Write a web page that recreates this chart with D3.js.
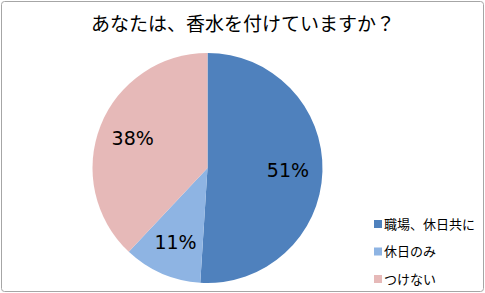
<!DOCTYPE html>
<html>
<head>
<meta charset="utf-8">
<script src="https://cdn.jsdelivr.net/npm/d3@7"></script>
<style>
	body { margin: 0; background: #fff; }
	text { font-family: "Noto Sans CJK JP", "Noto Sans", sans-serif; fill: #000; }
</style>
</head>
<body>
<script>
let categories = ['職場、休日共に', '休日のみ', 'つけない']
let values = [51, 11, 38]
let colors = ['#4F81BD', '#8EB4E3', '#E6B9B8']
let title = 'あなたは、香水を付けていますか？'

let width = 485, height = 293
let svg = d3.select('body').append('svg')
	.attr('width', width)
	.attr('height', height)

// frame
svg.append('rect')
	.attr('x', 1.5).attr('y', 1.5)
	.attr('width', width - 3).attr('height', height - 3)
	.attr('rx', 3)
	.attr('fill', '#fff')
	.attr('stroke', '#a6a6a6')
	.attr('stroke-width', 1)

svg.append('text')
	.attr('x', 243).attr('y', 31)
	.attr('text-anchor', 'middle')
	.attr('font-size', 19)
	.text(title)

let cx = 207.5, cy = 168, r = 115
let pie = d3.pie().sort(null).value(d => d)
let arcs = pie(values)
let arc = d3.arc().innerRadius(0).outerRadius(r)
let labelArc = d3.arc().innerRadius(r * 0.7).outerRadius(r * 0.7)

let g = svg.append('g').attr('transform', `translate(${cx},${cy})`)
g.selectAll('path')
	.data(arcs)
	.join('path')
	.attr('d', arc)
	.attr('fill', (d, i) => colors[i])

let total = d3.sum(values)
g.selectAll('text.lbl')
	.data(arcs)
	.join('text')
	.attr('class', 'lbl')
	.attr('transform', d => `translate(${labelArc.centroid(d)})`)
	.attr('text-anchor', 'middle')
	.attr('dy', '0.36em')
	.style('font-family', '"DejaVu Sans", sans-serif')
	.attr('font-size', 19)
	.text(d => Math.round(d.value / total * 100) + '%')

// legend
let leg = svg.append('g').attr('transform', 'translate(374,224)')
let item = leg.selectAll('g')
	.data(categories)
	.join('g')
	.attr('transform', (d, i) => `translate(0,${i * 27.5})`)
item.append('rect')
	.attr('x', 0).attr('y', -4)
	.attr('width', 8).attr('height', 8)
	.attr('fill', (d, i) => colors[i])
item.append('text')
	.attr('x', 10).attr('dy', '0.36em')
	.attr('font-size', 13)
	.text(d => d)
</script>
</body>
</html>
